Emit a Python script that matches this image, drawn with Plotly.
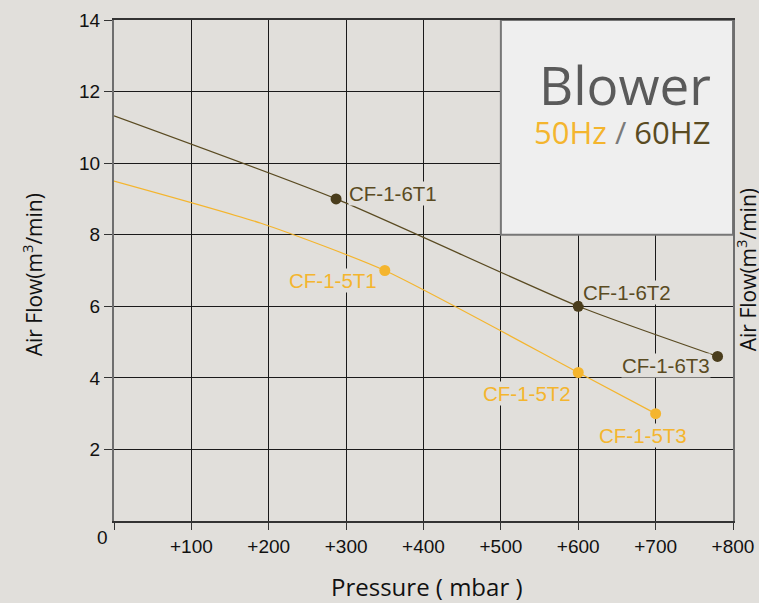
import plotly.graph_objects as go

# pressure (mbar) vs air flow (m3/min)
curve_60_x = [0, 287, 600, 780]
curve_60_y = [11.32, 9.0, 6.0, 4.6]
curve_50_x = [0, 190, 350, 600, 700]
curve_50_y = [9.5, 8.32, 7.0, 4.15, 3.0]

models_60 = ["CF-1-6T1", "CF-1-6T2", "CF-1-6T3"]
points_60_x = [287, 600, 780]
points_60_y = [9.0, 6.0, 4.6]

models_50 = ["CF-1-5T1", "CF-1-5T2", "CF-1-5T3"]
points_50_x = [350, 600, 700]
points_50_y = [7.0, 4.15, 3.0]

x_ticks = [0, 100, 200, 300, 400, 500, 600, 700, 800]
x_tick_text = ["", "+100", "+200", "+300", "+400", "+500", "+600", "+700", "+800"]
y_ticks = [2, 4, 6, 8, 10, 12, 14]

BG = "#e1dfdb"
DARK = "#5a4b22"
DARK_PT = "#4a3d1c"
YELLOW = "#f4b52e"
TICK_FONT = dict(family="Liberation Sans, Arial", size=19, color="#111")

fig = go.Figure()
fig.add_trace(go.Scatter(x=curve_60_x, y=curve_60_y, mode="lines",
                         line=dict(color=DARK, width=1.2, shape="spline", smoothing=0.6),
                         hoverinfo="skip"))
fig.add_trace(go.Scatter(x=curve_50_x, y=curve_50_y, mode="lines",
                         line=dict(color=YELLOW, width=1.2, shape="spline", smoothing=0.6),
                         hoverinfo="skip"))
fig.add_trace(go.Scatter(x=points_60_x, y=points_60_y, mode="markers",
                         marker=dict(color=DARK_PT, size=11), text=models_60))
fig.add_trace(go.Scatter(x=points_50_x, y=points_50_y, mode="markers",
                         marker=dict(color=YELLOW, size=11), text=models_50))

# label offsets in pixels (xanchor, xshift, yshift)
offs_60 = [("left", 12, 5), ("left", 4, 14), ("right", -7, -9)]
offs_50 = [("right", -7, -10), ("right", -6, -21), ("center", -13, -22)]
for names, xs, ys, offs, col in [(models_60, points_60_x, points_60_y, offs_60, DARK),
                                 (models_50, points_50_x, points_50_y, offs_50, YELLOW)]:
    for n, x, y, (xa, dx, dy) in zip(names, xs, ys, offs):
        fig.add_annotation(x=x, y=y, text=n, showarrow=False, xanchor=xa, yanchor="middle",
                           xshift=dx, yshift=dy, bgcolor=BG, borderpad=0,
                           font=dict(family="Liberation Sans, Arial", size=20.5, color=col))


def note(x, y, text, font, angle=0):
    fig.add_annotation(xref="paper", yref="paper", x=x, y=y, text=text, textangle=angle,
                       xanchor="center", yanchor="middle", showarrow=False, font=font)


# title box
fig.add_shape(type="rect", x0=500, x1=800, y0=8, y1=14, layer="above",
              fillcolor="#efefef", line=dict(color="#777", width=2))
note(0.825, 0.872, "Blower", dict(family="Open Sans", size=53, color="#5a5a5a"))
note(0.82, 0.776,
     f"<span style='color:{YELLOW}'>50Hz</span> "
     f"<span style='color:#7a7a7a'>/</span> "
     f"<span style='color:{DARK}'>60HZ</span>",
     dict(family="Open Sans", size=31))

# axis titles and the stray "0"
ytitle = "Air Flow(m<sup>3</sup>/min)"
title_font = dict(family="Open Sans", size=21, color="#111")
note(-0.132, 0.491, ytitle, title_font, -90)
note(1.023, 0.501, ytitle, title_font, -90)
note(0.505, -0.131, "Pressure ( mbar )", dict(family="Open Sans", size=24, color="#111"))
note(-0.018, -0.032, "0", TICK_FONT)

fig.update_xaxes(range=[0, 800], tickvals=x_ticks, ticktext=x_tick_text, tickfont=TICK_FONT,
                 showgrid=True, gridcolor="#1a1a1a", gridwidth=1, zeroline=False,
                 showline=True, linecolor="#333", linewidth=1.5, mirror=True,
                 ticks="outside", ticklen=7, tickcolor="#333", automargin=False)
fig.update_yaxes(range=[0, 14], tickvals=y_ticks, tickfont=TICK_FONT,
                 showgrid=True, gridcolor="#1a1a1a", gridwidth=1, zeroline=False,
                 showline=True, linecolor="#6e6e6e", linewidth=2, mirror=True,
                 ticks="outside", ticklen=8, tickcolor="#333", automargin=False)
fig.update_layout(width=759, height=603, showlegend=False,
                  paper_bgcolor=BG, plot_bgcolor=BG,
                  margin=dict(l=114, r=26, t=20, b=82))

fig.write_html("out.html", config={"displayModeBar": False},
               post_script="document.body.style.margin='0';")
